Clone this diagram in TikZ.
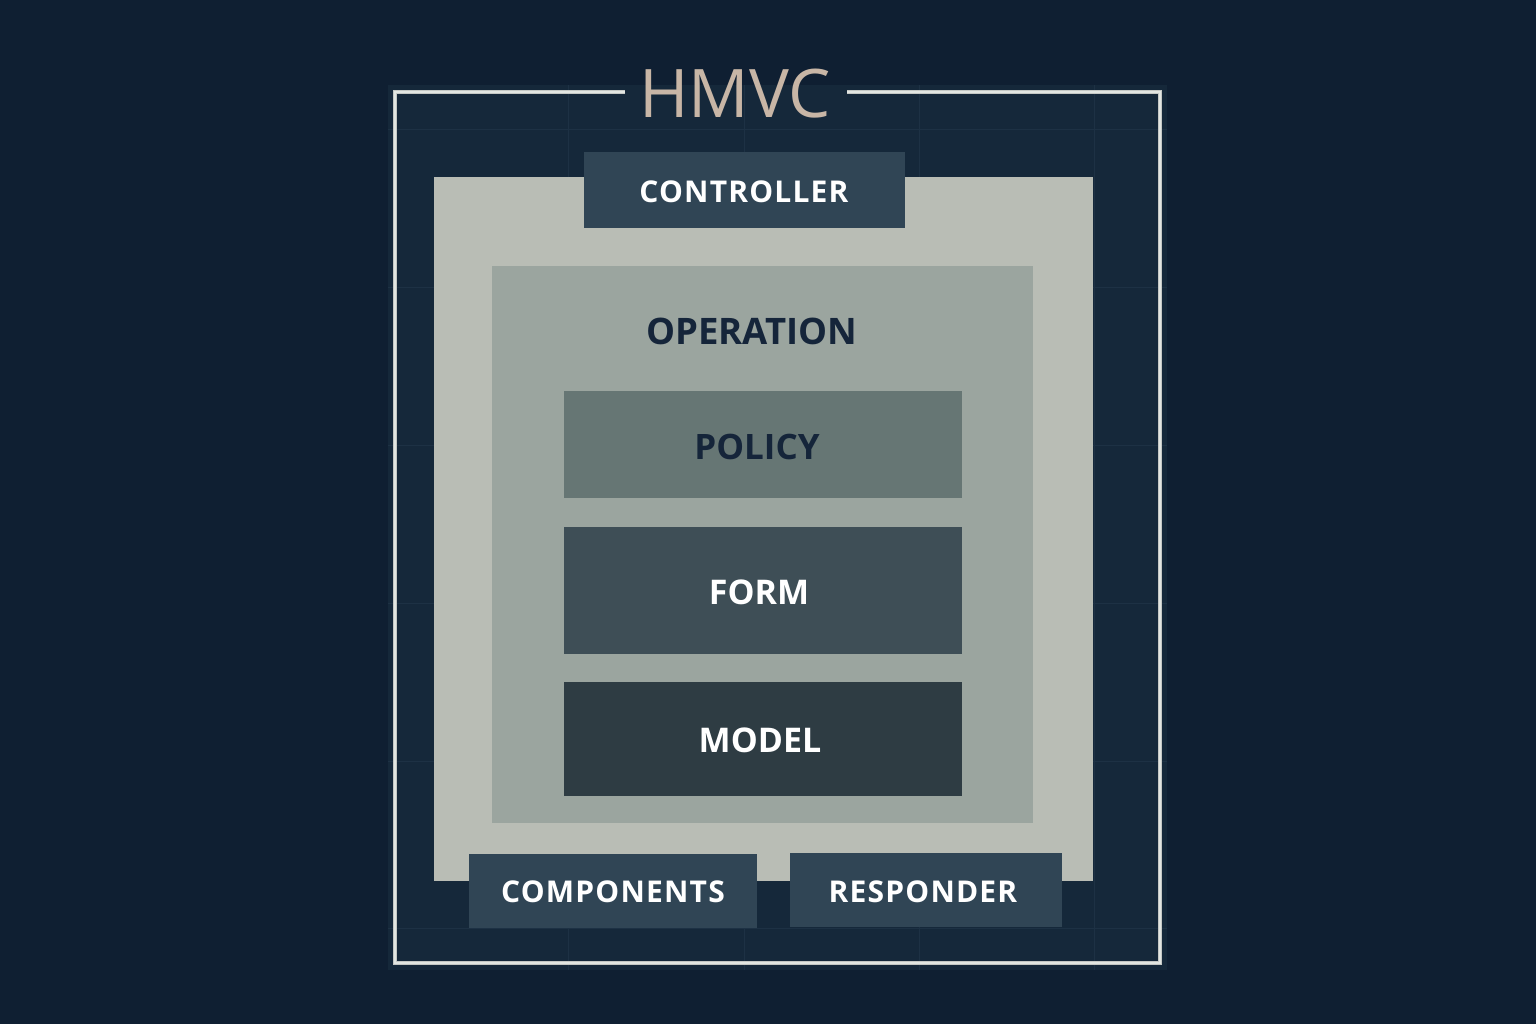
\documentclass[tikz,border=0pt]{standalone}
\usepackage{fontspec}
\setmainfont{Open Sans}
\newfontfamily\labelfont[LetterSpace=4]{Open Sans}
\newfontfamily\plainlabelfont{Open Sans}
\newfontfamily\titlefont{Open Sans}
\definecolor{bg}{HTML}{0F1F32}
\definecolor{frameinner}{HTML}{15283A}
\definecolor{gridc}{HTML}{1D3144}
\definecolor{framec}{HTML}{E2E6E2}
\definecolor{lightc}{HTML}{B9BDB5}
\definecolor{opc}{HTML}{9BA59F}
\definecolor{policyc}{HTML}{667674}
\definecolor{formc}{HTML}{3E4E56}
\definecolor{modelc}{HTML}{2E3C43}
\definecolor{tabc}{HTML}{304555}
\definecolor{darktext}{HTML}{15253A}
\definecolor{titlec}{HTML}{C8B6A6}
\begin{document}
\begin{tikzpicture}[x=1pt,y=-1pt,
  box/.style={rectangle, inner sep=0pt, outer sep=0pt, draw=none},
  whitelabel/.style={text=white},
  darklabel/.style={text=darktext},
  tablabel/.style={text=white}
]
\useasboundingbox (0,0) rectangle (1536,1024);
\fill[bg] (0,0) rectangle (1536,1024);
% frame interior
\fill[frameinner] (388,85) rectangle (1167,970);
\foreach \gx in {568,744,919,1094} \draw[gridc, line width=0.8pt] (\gx,85) -- (\gx,970);
\foreach \gy in {129,287,445,603,761,928} \draw[gridc, line width=0.8pt] (388,\gy) -- (1167,\gy);
% title and frame
\node[titlec, font=\titlefont\fontsize{67}{67}\selectfont, inner sep=0pt, anchor=base] (title) at (735,118) {HMVC};
\draw[framec!70!gray, line width=3.4pt] (625,92) -- (395,92) -- (395,963) -- (1160,963) -- (1160,92) -- (847,92);
\draw[framec, line width=1.6pt] (625,92) -- (395,92) -- (395,963) -- (1160,963) -- (1160,92) -- (847,92);
% light container
\node[box, fill=lightc, minimum width=659pt, minimum height=704pt] (container) at (763.5,529) {};
% controller tab
\node[box, fill=tabc, minimum width=321pt, minimum height=76pt] (controller) at (744.5,190) {};
\node[tablabel, font=\labelfont\bfseries\fontsize{30}{30}\selectfont] (controllerlbl) at (744,192) {CONTROLLER};
% operation
\node[box, fill=opc, minimum width=541pt, minimum height=557pt] (operation) at (762.5,544.5) {};
\node[darklabel, font=\plainlabelfont\bfseries\fontsize{36.5}{36.5}\selectfont] (operationlbl) at (752,331) {OPERATION};
% policy, form, model
\node[box, fill=policyc, minimum width=398pt, minimum height=107pt] (policy) at (763,444.5) {};
\node[darklabel, font=\plainlabelfont\bfseries\fontsize{35}{35}\selectfont] (policylbl) at (757,447) {POLICY};
\node[box, fill=formc, minimum width=398pt, minimum height=127pt] (form) at (763,590.5) {};
\node[whitelabel, font=\plainlabelfont\bfseries\fontsize{34}{34}\selectfont] (formlbl) at (759,592) {FORM};
\node[box, fill=modelc, minimum width=398pt, minimum height=114pt] (model) at (763,739) {};
\node[whitelabel, font=\plainlabelfont\bfseries\fontsize{34}{34}\selectfont] (modellbl) at (760,740) {MODEL};
% bottom tabs
\node[box, fill=tabc, minimum width=288pt, minimum height=74pt] (components) at (613,891) {};
\node[tablabel, font=\labelfont\bfseries\fontsize{30}{30}\selectfont] (componentslbl) at (613,892) {COMPONENTS};
\node[box, fill=tabc, minimum width=272pt, minimum height=74pt] (responder) at (926,890) {};
\node[tablabel, font=\labelfont\bfseries\fontsize{30}{30}\selectfont] (responderlbl) at (923,892) {RESPONDER};
\end{tikzpicture}
\end{document}
